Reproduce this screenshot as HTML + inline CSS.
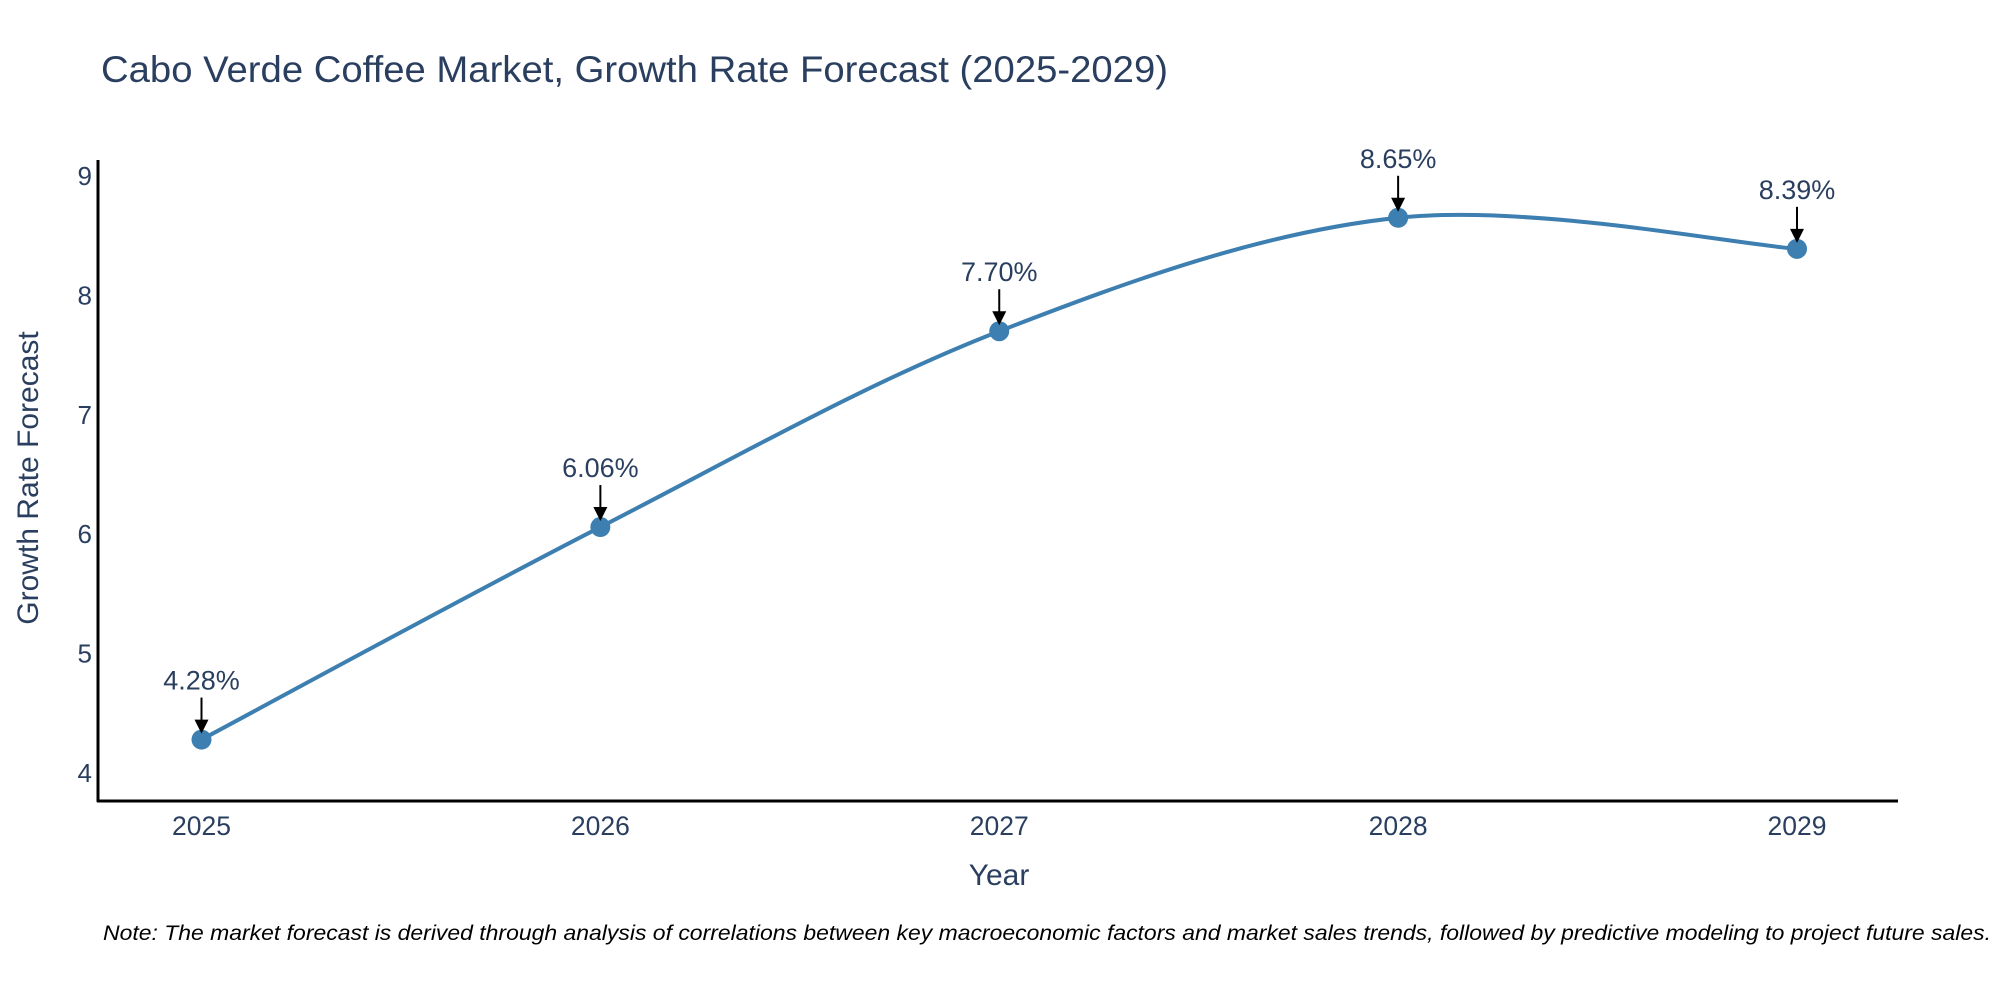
<!DOCTYPE html>
<html><head><meta charset="utf-8"><style>
body{margin:0;background:#fff;}
svg{display:block;font-family:"Liberation Sans",sans-serif;}
</style></head><body>
<svg id="chart" width="2000" height="1000" viewBox="0 0 2000 1000">
<text x="101" y="82" font-size="37" fill="#2a3f5f" textLength="1067" lengthAdjust="spacingAndGlyphs">Cabo Verde Coffee Market, Growth Rate Forecast (2025-2029)</text>
<g id="yticks"></g>
<g id="xticks"></g>
<line x1="98" y1="160" x2="98" y2="802" stroke="#000" stroke-width="3"/>
<line x1="97" y1="801" x2="1898" y2="801" stroke="#000" stroke-width="3"/>
<g id="series"></g>
<g id="annots"></g>
<text x="999" y="885" font-size="30" fill="#2a3f5f" text-anchor="middle">Year</text>
<text transform="translate(38,478) rotate(-90)" font-size="30" fill="#2a3f5f" text-anchor="middle">Growth Rate Forecast</text>
<text x="103" y="940" font-size="21" font-style="italic" fill="#000" textLength="1888" lengthAdjust="spacingAndGlyphs">Note: The market forecast is derived through analysis of correlations between key macroeconomic factors and market sales trends, followed by predictive modeling to project future sales.</text>
</svg>
<script>
const years = [2025, 2026, 2027, 2028, 2029];
const values = [4.28, 6.06, 7.70, 8.65, 8.39];
const labels = ["4.28%", "6.06%", "7.70%", "8.65%", "8.39%"];
const yTicks = [4, 5, 6, 7, 8, 9];
const NS = "http://www.w3.org/2000/svg";
function X(v){return 201.5 + (v - 2025) * (1797 - 201.5) / 4;}
function Y(v){return 773 - (v - 4) * (773 - 176) / 5;}
function mk(tag, attrs, parent){const e=document.createElementNS(NS,tag);for(const k in attrs)e.setAttribute(k,attrs[k]);parent.appendChild(e);return e;}
const yg=document.getElementById('yticks');
yTicks.forEach(t=>{const e=mk('text',{x:92,y:Y(t)+9,'font-size':26,fill:'#2a3f5f','text-anchor':'end'},yg);


e.textContent=t;});
const xg=document.getElementById('xticks');
years.forEach(t=>{const e=mk('text',{x:X(t),y:835,'font-size':26.5,fill:'#2a3f5f','text-anchor':'middle'},xg);


e.textContent=t;});
const pts=years.map((y,i)=>[X(y),Y(values[i])]);
let d=`M${pts[0][0]},${pts[0][1]}`;
const s=0.5;
for(let i=0;i<pts.length-1;i++){
 const p0=pts[Math.max(i-1,0)],p1=pts[i],p2=pts[i+1],p3=pts[Math.min(i+2,pts.length-1)];
 const c1=[p1[0]+(p2[0]-p0[0])*s/3,p1[1]+(p2[1]-p0[1])*s/3];
 const c2=[p2[0]-(p3[0]-p1[0])*s/3,p2[1]-(p3[1]-p1[1])*s/3];
 d+=` C${c1[0]},${c1[1]} ${c2[0]},${c2[1]} ${p2[0]},${p2[1]}`;
}
const sg=document.getElementById('series');
const line=mk('path',{d:d,fill:'none',stroke:'#3d7fb0','stroke-width':4},sg);


const ag=document.getElementById('annots');
pts.forEach((p,i)=>{
 const c=mk('circle',{cx:p[0],cy:p[1],r:10,fill:'#3d7fb0'},sg);
 
 
 const l=mk('line',{x1:p[0],y1:p[1]-42,x2:p[0],y2:p[1]-18,stroke:'#000','stroke-width':2},ag);
 
 
 const h=mk('polygon',{points:`${p[0]-7},${p[1]-20} ${p[0]+7},${p[1]-20} ${p[0]},${p[1]-6}`,fill:'#000'},ag);
 
 
 const t=mk('text',{x:p[0],y:p[1]-50,'font-size':27,fill:'#2a3f5f','text-anchor':'middle'},ag);
 
 
 t.textContent=labels[i];
});
</script>
</body></html>
